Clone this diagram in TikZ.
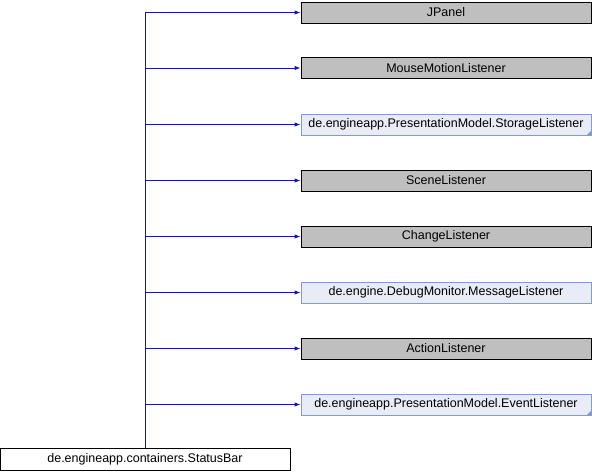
\documentclass[tikz,border=0pt]{standalone}
\usepackage{fontspec}
\setmainfont{Liberation Sans}
\definecolor{edge}{RGB}{25,25,140}
\definecolor{extfill}{RGB}{191,191,191}
\definecolor{docfill}{RGB}{232,236,247}
\definecolor{docline}{RGB}{132,154,204}
\usetikzlibrary{arrows.meta,positioning,calc}
\tikzset{
  classbox/.style={draw=black, fill=extfill, minimum width=290pt, minimum height=21pt,
    inner sep=0pt, line width=0.9pt, font=\fontsize{12.5}{14}\selectfont},
  docbox/.style={classbox, draw=docline, fill=docfill},
  mainbox/.style={classbox, fill=white, minimum height=22pt},
  inherit/.style={edge, line width=0.9pt, -{Latex[length=6pt,width=4.5pt]}},
}
\newcommand{\foldmark}[1]{\fill[docline] ($(#1.south east)+(-5pt,0)$) -- (#1.south east) -- ++(0,5pt) -- cycle;}

\begin{document}
\begin{tikzpicture}[x=1pt, y=-1pt]
  \useasboundingbox (0,0) rectangle (592,472);

  % base classes and interfaces
  \node[classbox] (jpanel)  at (446,12.5)  {JPanel};
  \node[classbox] (mouse)   at (446,68)    {MouseMotionListener};
  \node[docbox]   (storage) at (446,124.5) {de.engineapp.PresentationModel.StorageListener};
  \node[classbox] (scene)   at (446,180.5) {SceneListener};
  \node[classbox] (change)  at (446,236.5) {ChangeListener};
  \node[docbox]   (message) at (446,292.5) {de.engine.DebugMonitor.MessageListener};
  \node[classbox] (action)  at (446,348.5) {ActionListener};
  \node[docbox]   (event)   at (446,404.5) {de.engineapp.PresentationModel.EventListener};
  \foldmark{storage}
  \foldmark{event}

  % derived class
  \node[mainbox] (statusbar) at (145,459) {de.engineapp.containers.StatusBar};

  \foreach \n in {jpanel,mouse,storage,scene,change,message,action,event}
    \draw[inherit] (statusbar.north) |- (\n.west);
\end{tikzpicture}
\end{document}
